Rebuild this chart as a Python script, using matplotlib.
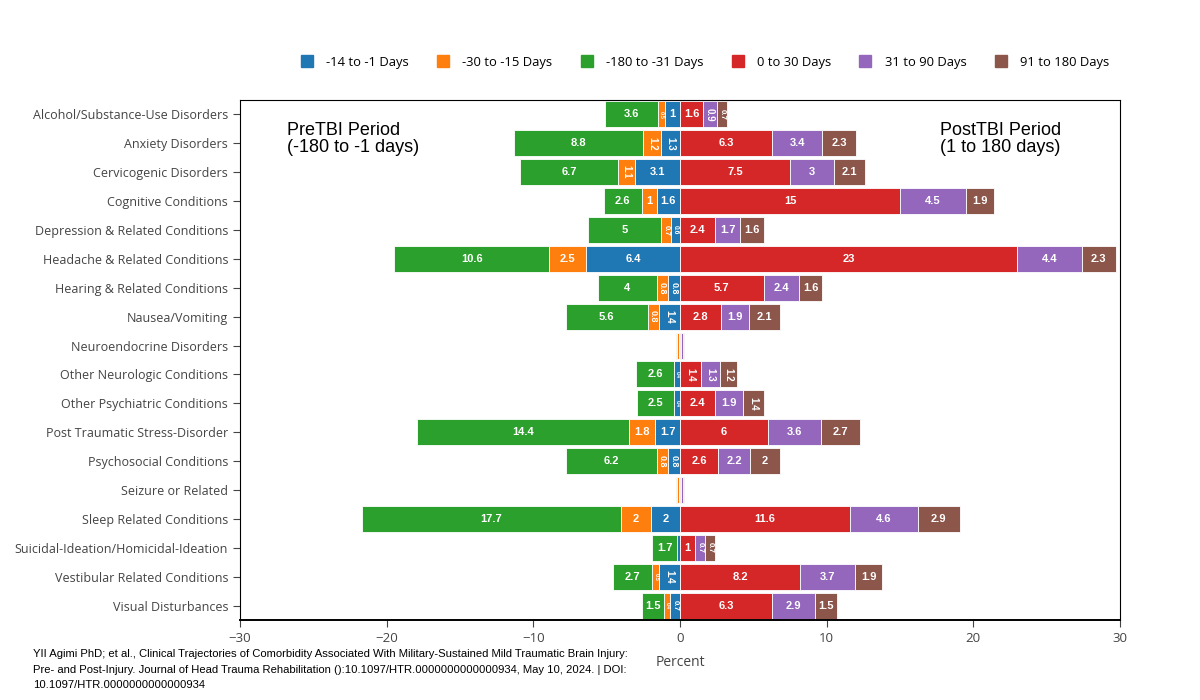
import numpy as np
import matplotlib
matplotlib.use("Agg")
import matplotlib.pyplot as plt
from matplotlib.lines import Line2D

categories = [
    "Alcohol/Substance-Use Disorders", "Anxiety Disorders", "Cervicogenic Disorders",
    "Cognitive Conditions", "Depression & Related Conditions", "Headache & Related Conditions",
    "Hearing & Related Conditions", "Nausea/Vomiting", "Neuroendocrine Disorders",
    "Other Neurologic Conditions", "Other Psychiatric Conditions", "Post Traumatic Stress-Disorder",
    "Psychosocial Conditions", "Seizure or Related", "Sleep Related Conditions",
    "Suicidal-Ideation/Homicidal-Ideation", "Vestibular Related Conditions", "Visual Disturbances",
]

# pre-injury windows (plotted to the left of zero)
d14 = [1, 1.3, 3.1, 1.6, 0.6, 6.4, 0.8, 1.4, 0.1, 0.4, 0.4, 1.7, 0.8, 0.1, 2, 0.2, 1.4, 0.7]
d30 = [0.5, 1.2, 1.1, 1, 0.7, 2.5, 0.8, 0.8, 0.1, 0, 0, 1.8, 0.8, 0.1, 2, 0, 0.5, 0.4]
d180 = [3.6, 8.8, 6.7, 2.6, 5, 10.6, 4, 5.6, 0.1, 2.6, 2.5, 14.4, 6.2, 0.1, 17.7, 1.7, 2.7, 1.5]
# post-injury windows
p30 = [1.6, 6.3, 7.5, 15, 2.4, 23, 5.7, 2.8, 0.1, 1.4, 2.4, 6, 2.6, 0.1, 11.6, 1, 8.2, 6.3]
p90 = [0.9, 3.4, 3, 4.5, 1.7, 4.4, 2.4, 1.9, 0.1, 1.3, 1.9, 3.6, 2.2, 0.1, 4.6, 0.7, 3.7, 2.9]
p180 = [0.7, 2.3, 2.1, 1.9, 1.6, 2.3, 1.6, 2.1, 0.1, 1.2, 1.4, 2.7, 2, 0.1, 2.9, 0.7, 1.9, 1.5]

series = [
    ("-14 to -1 Days", d14, "#1f77b4", -1),
    ("-30 to -15 Days", d30, "#ff7f0e", -1),
    ("-180 to -31 Days", d180, "#2ca02c", -1),
    ("0 to 30 Days", p30, "#d62728", 1),
    ("31 to 90 Days", p90, "#9467bd", 1),
    ("91 to 180 Days", p180, "#8c564b", 1),
]

plt.rcParams['font.family'] = ['Open Sans', 'DejaVu Sans']

fig = plt.figure(figsize=(12, 7), dpi=100)
ax = fig.add_axes([0.2, 0.1143, 0.7333, 0.7428])

y = np.arange(len(categories))
px_per_unit = 880 / 60.0
neg_left = np.zeros(len(categories))
pos_left = np.zeros(len(categories))

for name, vals, color, side in series:
    vals = np.array(vals, dtype=float)
    if side < 0:
        lefts = -(neg_left + vals)
        neg_left += vals
    else:
        lefts = pos_left.copy()
        pos_left += vals
    ax.barh(y, vals, left=lefts, height=0.9, color=color, edgecolor="white",
            linewidth=0.6)
    for i, v in enumerate(vals):
        if v < 0.3:
            continue
        lab = "{:g}".format(v)
        cx = lefts[i] + v / 2
        wpx = v * px_per_unit
        tw = 6.0 * len(lab)
        if wpx >= tw + 3:
            ax.text(cx, y[i], lab, ha="center", va="center", color="white",
                    fontsize=8, fontweight="bold", family="Liberation Sans")
        else:
            fs = max(3.5, min(7, wpx * 0.55))
            ax.text(cx, y[i], lab, ha="center", va="center", color="white",
                    fontsize=fs, fontweight="bold", rotation=-90,
                    family="Liberation Sans")

ax.set_xlim(-30, 30)
ax.set_ylim(len(categories) - 0.5, -0.5)
ax.set_yticks(y)
ax.set_yticklabels(categories, fontsize=9, color="#444444")
ax.set_xticks([-30, -20, -10, 0, 10, 20, 30])
ax.set_xticklabels(["\u221230", "\u221220", "\u221210", "0", "10", "20", "30"],
                   fontsize=9.5, color="#444444")
ax.tick_params(axis="y", length=5, width=0.8, color="#444444")
ax.tick_params(axis="x", length=5, width=0.8, color="#444444")
for s in ax.spines.values():
    s.set_linewidth(0.8)
ax.spines["bottom"].set_linewidth(1.4)
ax.set_xlabel("Percent", fontsize=10, color="#444444", labelpad=7)

ax.text(-26.8, 0.25, "PreTBI Period\n(-180 to -1 days)", fontsize=13, ha="left",
        va="top", family="Liberation Sans", linespacing=1.05)
ax.text(17.7, 0.25, "PostTBI Period\n(1 to 180 days)", fontsize=13, ha="left",
        va="top", family="Liberation Sans", linespacing=1.05)

handles = [Line2D([0], [0], marker="s", linestyle="", markersize=9,
                  markerfacecolor=c, markeredgecolor=c) for _, _, c, _ in series]
fig.legend(handles, [s[0] for s in series], loc="center", ncol=6,
           bbox_to_anchor=(0.5846, 0.911), frameon=False, fontsize=9.4,
           handletextpad=0.5, columnspacing=1.6)

fig.text(0.0275, 0.0435,
         "YII Agimi PhD; et al., Clinical Trajectories of Comorbidity Associated With Military-Sustained Mild Traumatic Brain Injury:\n"
         "Pre- and Post-Injury. Journal of Head Trauma Rehabilitation ():10.1097/HTR.0000000000000934, May 10, 2024. | DOI:\n"
         "10.1097/HTR.0000000000000934",
         fontsize=8.1, va="center", ha="left", linespacing=1.65,
         family="Liberation Sans")

fig.savefig("out.png", dpi=100)
